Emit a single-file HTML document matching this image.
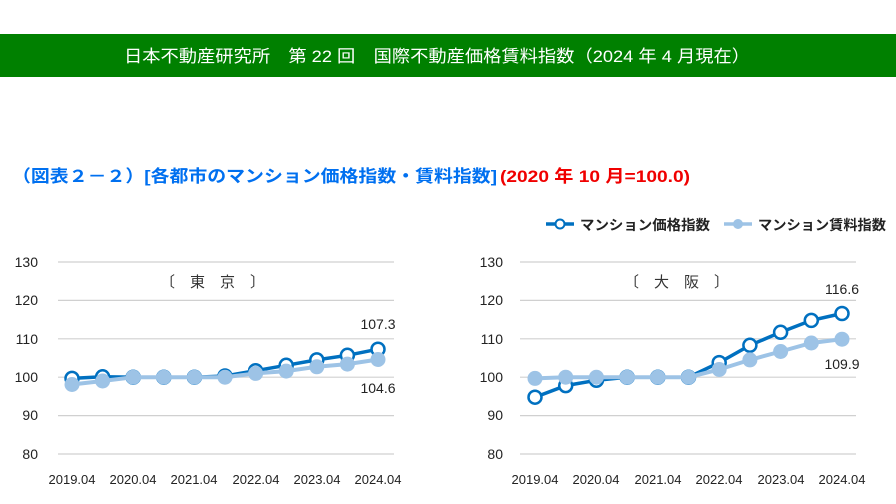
<!DOCTYPE html>
<html><head><meta charset="utf-8"><style>
body{margin:0;background:#fff;}
svg{display:block;font-family:"Liberation Sans","Noto Sans CJK JP",sans-serif;}
</style></head><body>
<svg width="896" height="504" viewBox="0 0 896 504" xmlns="http://www.w3.org/2000/svg">
<rect x="0" y="34" width="896" height="43" fill="#008000"/>
<text x="437" y="62" fill="#fff" font-size="17" text-anchor="middle" textLength="626" lengthAdjust="spacingAndGlyphs">日本不動産研究所　第 22 回　国際不動産価格賃料指数（2024 年 4 月現在）</text>
<text x="12" y="182" font-size="17" font-weight="bold" fill="#0070f0" textLength="485" lengthAdjust="spacingAndGlyphs">（図表２－２）[各都市のマンション価格指数・賃料指数]</text>
<text x="500" y="182" font-size="17" font-weight="bold" fill="#f00000" textLength="190" lengthAdjust="spacingAndGlyphs">(2020 年 10 月=100.0)</text>
<line x1="546" y1="224" x2="574" y2="224" stroke="#0070c0" stroke-width="3.5"/>
<circle cx="560" cy="224" r="4.5" fill="#fff" stroke="#0070c0" stroke-width="2"/>
<text x="580" y="230" font-size="14" font-weight="bold" fill="#222" textLength="130" lengthAdjust="spacingAndGlyphs">マンション価格指数</text>
<line x1="724" y1="224" x2="752" y2="224" stroke="#9dc3e6" stroke-width="3.5"/>
<circle cx="738" cy="224" r="5" fill="#9dc3e6"/>
<text x="758" y="230" font-size="14" font-weight="bold" fill="#222" textLength="128" lengthAdjust="spacingAndGlyphs">マンション賃料指数</text>
<g stroke="#d0d0d0" stroke-width="1.2">
<line x1="58" y1="262" x2="394" y2="262"/><line x1="58" y1="300.4" x2="394" y2="300.4"/><line x1="58" y1="338.8" x2="394" y2="338.8"/><line x1="58" y1="377.2" x2="394" y2="377.2"/><line x1="58" y1="415.6" x2="394" y2="415.6"/><line x1="58" y1="454" x2="394" y2="454"/>
<line x1="520" y1="262" x2="856" y2="262"/><line x1="520" y1="300.4" x2="856" y2="300.4"/><line x1="520" y1="338.8" x2="856" y2="338.8"/><line x1="520" y1="377.2" x2="856" y2="377.2"/><line x1="520" y1="415.6" x2="856" y2="415.6"/><line x1="520" y1="454" x2="856" y2="454"/>
</g>
<g font-size="14" fill="#222" text-anchor="end">
<text x="38" y="267">130</text><text x="38" y="305">120</text><text x="38" y="344">110</text><text x="38" y="382">100</text><text x="38" y="420">90</text><text x="38" y="459">80</text>
<text x="503" y="267">130</text><text x="503" y="305">120</text><text x="503" y="344">110</text><text x="503" y="382">100</text><text x="503" y="420">90</text><text x="503" y="459">80</text>
</g>
<g font-size="13" fill="#222" text-anchor="middle">
<text x="72" y="484">2019.04</text><text x="133" y="484">2020.04</text><text x="194" y="484">2021.04</text><text x="256" y="484">2022.04</text><text x="317" y="484">2023.04</text><text x="378" y="484">2024.04</text>
<text x="535" y="484">2019.04</text><text x="596" y="484">2020.04</text><text x="658" y="484">2021.04</text><text x="719" y="484">2022.04</text><text x="781" y="484">2023.04</text><text x="842" y="484">2024.04</text>
</g>
<text x="160" y="287" font-size="15" fill="#333" xml:space="preserve">〔　東　京　〕</text>
<text x="624" y="287" font-size="15" fill="#333" xml:space="preserve">〔　大　阪　〕</text>
<g font-size="14" fill="#222" text-anchor="middle">
<text x="378" y="329">107.3</text><text x="378" y="393">104.6</text>
<text x="842" y="294">116.6</text><text x="842" y="369">109.9</text>
</g>
<polyline fill="none" stroke="#0070c0" stroke-width="3.5" points="72,378.4 102.6,376.8 133.2,377.2 163.8,377.2 194.4,377.2 225,376 255.6,370.7 286.2,365.3 316.8,359.9 347.4,355.3 378,349.2"/>
<g fill="#fff" stroke="#0070c0" stroke-width="2.5">
<circle cx="72" cy="378.4" r="6.5"/><circle cx="102.6" cy="376.8" r="6.5"/><circle cx="133.2" cy="377.2" r="6.5"/><circle cx="163.8" cy="377.2" r="6.5"/><circle cx="194.4" cy="377.2" r="6.5"/><circle cx="225" cy="376" r="6.5"/><circle cx="255.6" cy="370.7" r="6.5"/><circle cx="286.2" cy="365.3" r="6.5"/><circle cx="316.8" cy="359.9" r="6.5"/><circle cx="347.4" cy="355.3" r="6.5"/><circle cx="378" cy="349.2" r="6.5"/>
</g>
<polyline fill="none" stroke="#9dc3e6" stroke-width="4" points="72,384.5 102.6,381 133.2,377.2 163.8,377.2 194.4,377.2 225,377.2 255.6,373.4 286.2,371.1 316.8,366.8 347.4,364.1 378,359.5"/>
<g fill="#9dc3e6">
<circle cx="72" cy="384.5" r="7.5"/><circle cx="102.6" cy="381" r="7.5"/><circle cx="133.2" cy="377.2" r="7.5"/><circle cx="163.8" cy="377.2" r="7.5"/><circle cx="194.4" cy="377.2" r="7.5"/><circle cx="225" cy="377.2" r="7.5"/><circle cx="255.6" cy="373.4" r="7.5"/><circle cx="286.2" cy="371.1" r="7.5"/><circle cx="316.8" cy="366.8" r="7.5"/><circle cx="347.4" cy="364.1" r="7.5"/><circle cx="378" cy="359.5" r="7.5"/>
</g>
<polyline fill="none" stroke="#0070c0" stroke-width="3.5" points="535,397.2 565.7,385.6 596.4,380.3 627.1,377.2 657.8,377.2 688.5,377.2 719.2,362.6 749.9,345.3 780.6,332.3 811.3,320.4 842,313.5"/>
<g fill="#fff" stroke="#0070c0" stroke-width="2.5">
<circle cx="535" cy="397.2" r="6.5"/><circle cx="565.7" cy="385.6" r="6.5"/><circle cx="596.4" cy="380.3" r="6.5"/><circle cx="627.1" cy="377.2" r="6.5"/><circle cx="657.8" cy="377.2" r="6.5"/><circle cx="688.5" cy="377.2" r="6.5"/><circle cx="719.2" cy="362.6" r="6.5"/><circle cx="749.9" cy="345.3" r="6.5"/><circle cx="780.6" cy="332.3" r="6.5"/><circle cx="811.3" cy="320.4" r="6.5"/><circle cx="842" cy="313.5" r="6.5"/>
</g>
<polyline fill="none" stroke="#9dc3e6" stroke-width="4" points="535,378.4 565.7,377.2 596.4,377.2 627.1,377.2 657.8,377.2 688.5,377.2 719.2,369.5 749.9,359.9 780.6,351.5 811.3,343 842,339.2"/>
<g fill="#9dc3e6">
<circle cx="535" cy="378.4" r="7.5"/><circle cx="565.7" cy="377.2" r="7.5"/><circle cx="596.4" cy="377.2" r="7.5"/><circle cx="627.1" cy="377.2" r="7.5"/><circle cx="657.8" cy="377.2" r="7.5"/><circle cx="688.5" cy="377.2" r="7.5"/><circle cx="719.2" cy="369.5" r="7.5"/><circle cx="749.9" cy="359.9" r="7.5"/><circle cx="780.6" cy="351.5" r="7.5"/><circle cx="811.3" cy="343" r="7.5"/><circle cx="842" cy="339.2" r="7.5"/>
</g>
</svg>
</body></html>
